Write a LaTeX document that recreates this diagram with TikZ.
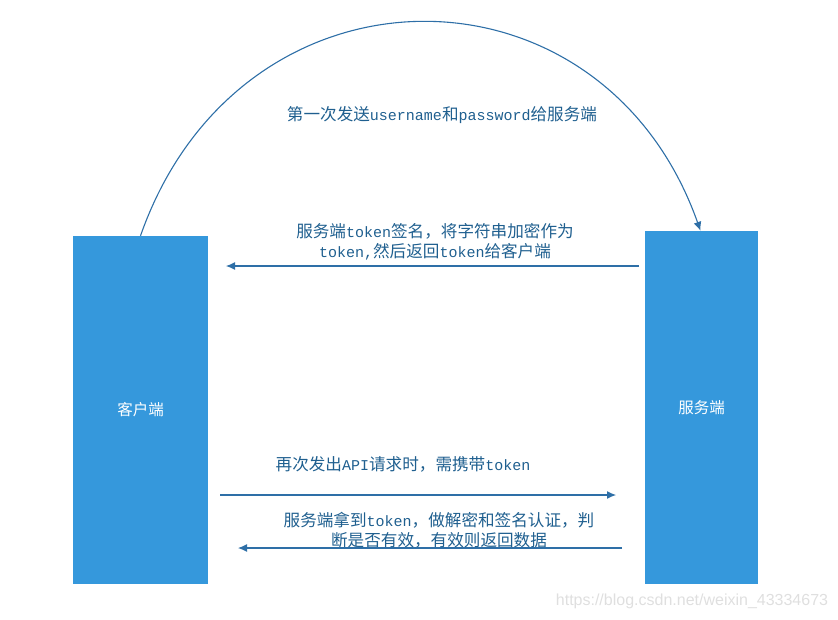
\documentclass[tikz,border=0pt]{standalone}
\usepackage{fontspec}
\setmainfont{Noto Sans CJK SC}
\newfontfamily\latinfont{Liberation Mono}
\newfontfamily\wmfont{Liberation Sans}
\newcommand{\asc}[1]{{\latinfont\fontsize{15}{20}\selectfont #1}}
\usepackage{xcolor}
\usetikzlibrary{arrows.meta, positioning, calc}
\definecolor{boxblue}{HTML}{3598DC}
\definecolor{linkblue}{HTML}{2E6FA7}
\definecolor{labelblue}{HTML}{1F5F8F}

\begin{document}
\begin{tikzpicture}[
    x=1pt, y=-1pt,
    party/.style={rectangle, fill=boxblue, text=white, font=\fontsize{15.5}{16}\selectfont, inner sep=0pt},
    label/.style={text=labelblue, align=center, font=\fontsize{16.6}{20}\selectfont},
    arrow/.style={-{Latex[length=9pt,width=8pt]}, draw=linkblue, line width=1.1pt}
]
\useasboundingbox (0,0) rectangle (838,619);

% Client and server
\node[party, minimum width=135pt, minimum height=348pt] (client) at (140.5,410) {客户端};
\node[party, minimum width=113pt, minimum height=353pt] (server) at (701.5,407.5) {服务端};

% Free ends of the arrows
\coordinate (tokenout) at (639,266);
\coordinate (tokenin) at (226,266);
\coordinate (reqout) at (220,495);
\coordinate (reqin) at (616,495);
\coordinate (dataout) at (622,548);
\coordinate (datain) at (238,548);

% Step 1: login
\draw[arrow] (client.north) .. controls (240,-48) and (602,-48) .. ([xshift=-1pt]server.north);
\node[label] (login) at (442,115) {第一次发送\asc{username}和\asc{password}给服务端};

% Step 2: token back
\draw[arrow] (tokenout) -- (tokenin);
\node[label] (sign) at (435,242) {服务端\asc{token}签名，将字符串加密作为\\\asc{token,}然后返回\asc{token}给客户端};

% Step 3: request with token
\node[label] (request) at (403,464) {再次发出\asc{API}请求时，需携带\asc{token}};
\draw[arrow] (reqout) -- (reqin);

% Step 4: check and answer
\node[label] (check) at (439,530) {服务端拿到\asc{token}，做解密和签名认证，判\\断是否有效，有效则返回数据};
\draw[arrow] (dataout) -- (datain);

% Watermark
\node[text=gray!25, font=\wmfont\fontsize{16}{18}\selectfont] (mark) at (692,601) {https://blog.csdn.net/weixin\_43334673};

\end{tikzpicture}
\end{document}
